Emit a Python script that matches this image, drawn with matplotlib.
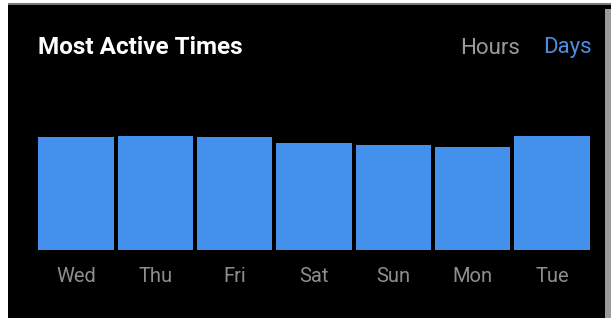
import matplotlib
matplotlib.use("Agg")
import matplotlib.pyplot as plt
from matplotlib.patches import Rectangle

# ------------------------------------------------------------
# Data (bar heights, arbitrary units)
# ------------------------------------------------------------
days = ["Wed", "Thu", "Fri", "Sat", "Sun", "Mon", "Tue"]
activity = [113, 114, 113, 107, 105, 103, 114.5]

title_text = "Most Active Times"
toggle_labels = ["Hours", "Days"]

# ------------------------------------------------------------
# Figure
# ------------------------------------------------------------
plt.rcParams["font.family"] = ["Roboto", "DejaVu Sans"]

W, H = 611, 318
fig = plt.figure(figsize=(W / 100, H / 100), dpi=100, facecolor="black")

# screenshot border: white strip left/top, grey strip right
fig.add_artist(Rectangle((0, 0), 8 / W, 1, transform=fig.transFigure,
                         facecolor="white", edgecolor="none"))
fig.add_artist(Rectangle((0, 1 - 4 / H), 1, 4 / H, transform=fig.transFigure,
                         facecolor="white", edgecolor="none"))
fig.add_artist(Rectangle((8 / W, 1 - 5 / H), 1, 1.5 / H, transform=fig.transFigure,
                         facecolor="#777777", edgecolor="none"))
fig.add_artist(Rectangle((605 / W, 0), 6 / W, 1 - 9 / H, transform=fig.transFigure,
                         facecolor="#9a9a9a", edgecolor="none"))

# bar axes
left_px, right_px = 36.3, 591.7
bottom_px, top_px = 250, 130
ax = fig.add_axes([left_px / W, 1 - bottom_px / H,
                   (right_px - left_px) / W, (bottom_px - top_px) / H])
ax.set_facecolor("black")

x = range(len(days))
ax.bar(x, activity, width=0.95, color="#4391EC")

ax.set_xlim(-0.5, len(days) - 0.5)
ax.set_ylim(0, 120)
ax.set_xticks(list(x))
ax.set_xticklabels(days, fontsize=14.5, color="#8e8e8e")
ax.tick_params(axis="x", length=0, pad=12)
ax.set_yticks([])
for s in ax.spines.values():
    s.set_visible(False)

# header
fig.text(38 / W, 1 - 48 / H, title_text, fontsize=17.5, fontweight="bold",
         color="white", va="center", ha="left")
fig.text(460 / W, 1 - 48 / H, toggle_labels[0], fontsize=16,
         color="#9a9a9a", va="center", ha="left")
fig.text(543 / W, 1 - 48 / H, toggle_labels[1], fontsize=16,
         color="#4a8fe0", va="center", ha="left")

fig.savefig("out.png", dpi=100, facecolor="black")
